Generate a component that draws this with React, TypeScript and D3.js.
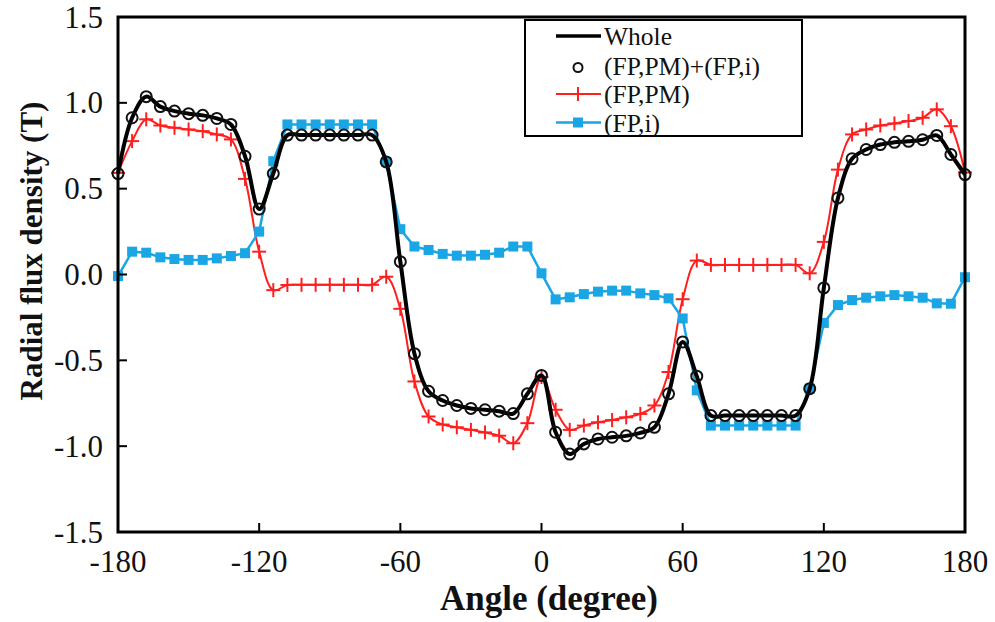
import React from "react";
import * as d3 from "d3";

const angles = [
  -180, -174, -168, -162, -156, -150, -144, -138, -132, -126, -120, -114, -108, -102, -96, -90, -84, -78, -72, -66,
  -60, -54, -48, -42, -36, -30, -24, -18, -12, -6, 0, 6, 12, 18, 24, 30, 36, 42, 48, 54,
  60, 66, 72, 78, 84, 90, 96, 102, 108, 114, 120, 126, 132, 138, 144, 150, 156, 162, 168, 174, 180,
];

const wholeValues = [
  0.588, 0.913, 1.036, 0.978, 0.952, 0.937, 0.927, 0.909, 0.874, 0.689, 0.381, 0.588, 0.812, 0.812, 0.812, 0.812, 0.812, 0.812, 0.812, 0.656,
  0.075, -0.461, -0.68, -0.734, -0.763, -0.78, -0.788, -0.796, -0.81, -0.695, -0.588, -0.919, -1.046, -0.987, -0.958, -0.948, -0.94, -0.923, -0.89, -0.695,
  -0.393, -0.592, -0.822, -0.822, -0.822, -0.822, -0.822, -0.822, -0.822, -0.665, -0.078, 0.446, 0.674, 0.728, 0.757, 0.77, 0.776, 0.785, 0.81, 0.699, 0.582,
];

const sumValues = [
  0.588, 0.913, 1.036, 0.978, 0.952, 0.937, 0.927, 0.909, 0.874, 0.689, 0.381, 0.588, 0.812, 0.812, 0.812, 0.812, 0.812, 0.812, 0.812, 0.656,
  0.075, -0.461, -0.68, -0.734, -0.763, -0.78, -0.788, -0.796, -0.81, -0.695, -0.588, -0.919, -1.046, -0.987, -0.958, -0.948, -0.94, -0.923, -0.89, -0.695,
  -0.393, -0.592, -0.822, -0.822, -0.822, -0.822, -0.822, -0.822, -0.822, -0.665, -0.078, 0.446, 0.674, 0.728, 0.757, 0.77, 0.776, 0.785, 0.81, 0.699, 0.582,
];

const pmValues = [
  0.592, 0.777, 0.904, 0.868, 0.855, 0.845, 0.835, 0.816, 0.787, 0.557, 0.133, -0.091, -0.061, -0.06, -0.06, -0.06, -0.06, -0.06, -0.06, -0.013,
  -0.2, -0.623, -0.827, -0.874, -0.89, -0.905, -0.92, -0.939, -0.983, -0.866, -0.597, -0.788, -0.905, -0.88, -0.861, -0.848, -0.832, -0.812, -0.763, -0.568,
  -0.144, 0.081, 0.056, 0.056, 0.056, 0.056, 0.056, 0.056, 0.056, 0.007, 0.19, 0.611, 0.816, 0.845, 0.868, 0.88, 0.894, 0.913, 0.962, 0.864, 0.594,
];

const iValues = [
  -0.009, 0.133, 0.127, 0.1, 0.09, 0.085, 0.085, 0.094, 0.108, 0.124, 0.25, 0.66, 0.874, 0.874, 0.874, 0.874, 0.874, 0.874, 0.874, 0.656,
  0.264, 0.163, 0.143, 0.12, 0.11, 0.11, 0.115, 0.127, 0.163, 0.163, 0.007, -0.145, -0.133, -0.114, -0.1, -0.094, -0.094, -0.11, -0.12, -0.139,
  -0.256, -0.675, -0.88, -0.88, -0.88, -0.88, -0.88, -0.88, -0.88, -0.665, -0.282, -0.178, -0.149, -0.135, -0.127, -0.12, -0.127, -0.135, -0.168, -0.17, -0.016,
];

const xTicks = [-180, -120, -60, 0, 60, 120, 180];
const yTicks = [-1.5, -1.0, -0.5, 0.0, 0.5, 1.0, 1.5];
const legendLabels = ["Whole", "(FP,PM)+(FP,i)", "(FP,PM)", "(FP,i)"];

const W = 995;
const H = 622;
const M = { left: 118, right: 965, top: 17, bottom: 532 };
const RED = "#ff1f1f";
const BLUE = "#1aa6e4";
const FONT = "Liberation Serif, DejaVu Serif, serif";

export default function App() {
  const x = d3.scaleLinear().domain([-180, 180]).range([M.left, M.right]);
  const y = d3.scaleLinear().domain([-1.5, 1.5]).range([M.bottom, M.top]);

  const mk = (vals: number[]) => angles.map((a, i) => [a, vals[i]] as [number, number]);
  const smooth = d3
    .line<[number, number]>()
    .x((d) => x(d[0]))
    .y((d) => y(d[1]))
    .curve(d3.curveCatmullRom.alpha(0.5));
  const straight = d3
    .line<[number, number]>()
    .x((d) => x(d[0]))
    .y((d) => y(d[1]));

  const pm = mk(pmValues);
  const cur = mk(iValues);
  const whole = mk(wholeValues);
  const sum = mk(sumValues);

  const cross = (cx: number, cy: number, key: string | number) => (
    <g key={key} stroke={RED} strokeWidth={2}>
      <line x1={cx - 7} x2={cx + 7} y1={cy} y2={cy} />
      <line x1={cx} x2={cx} y1={cy - 7} y2={cy + 7} />
    </g>
  );

  const lgX0 = 556;
  const lgX1 = 601;
  const lgMid = 578;
  const lgTextX = 604;
  const baselines = [45, 74.5, 103, 131.5];
  const txt = { fontFamily: FONT } as React.CSSProperties;

  return (
    <svg width={W} height={H} style={{ position: "absolute", left: 0, top: 0, background: "#fff" }}>
      <rect x={0} y={0} width={W} height={H} fill="#fff" />
      {/* series */}
      <path d={smooth(pm) || ""} fill="none" stroke={RED} strokeWidth={2} />
      {pm.map((d, i) => cross(x(d[0]), y(d[1]), "pm" + i))}
      <path d={straight(cur) || ""} fill="none" stroke={BLUE} strokeWidth={2.5} />
      {cur.map((d, i) => (
        <rect key={"i" + i} x={x(d[0]) - 5} y={y(d[1]) - 5} width={10} height={10} fill={BLUE} />
      ))}
      <path d={smooth(whole) || ""} fill="none" stroke="#000" strokeWidth={4} />
      {sum.map((d, i) => (
        <circle key={"s" + i} cx={x(d[0])} cy={y(d[1])} r={5.5} fill="none" stroke="#111" strokeWidth={2} />
      ))}

      {/* frame */}
      <rect
        x={M.left}
        y={M.top}
        width={M.right - M.left}
        height={M.bottom - M.top}
        fill="none"
        stroke="#000"
        strokeWidth={3}
      />
      {/* ticks */}
      {xTicks.map((t) => (
        <g key={"xt" + t}>
          {t > -180 && t < 180 && (
            <line x1={x(t)} x2={x(t)} y1={M.bottom} y2={M.bottom - 9} stroke="#000" strokeWidth={2} />
          )}
          <text x={x(t)} y={572} textAnchor="middle" style={txt} fontSize={31} fill="#111">
            {t}
          </text>
        </g>
      ))}
      {yTicks.map((t) => (
        <g key={"yt" + t}>
          {t > -1.5 && t < 1.5 && (
            <line x1={M.left} x2={M.left + 9} y1={y(t)} y2={y(t)} stroke="#000" strokeWidth={2} />
          )}
          <text x={103} y={y(t) + 10.5} textAnchor="end" style={txt} fontSize={31} fill="#111">
            {t.toFixed(1)}
          </text>
        </g>
      ))}

      {/* axis titles */}
      <text x={549} y={610} textAnchor="middle" style={txt} fontSize={35} fontWeight="bold" fill="#111">
        Angle (degree)
      </text>
      <text
        transform="translate(42,251) rotate(-90)"
        textAnchor="middle"
        style={txt}
        fontSize={31}
        fontWeight="bold"
        fill="#111"
      >
        Radial flux density (T)
      </text>

      {/* legend */}
      <rect x={525} y={20} width={277} height={116} fill="#fff" stroke="#000" strokeWidth={2} />
      <line x1={lgX0} x2={lgX1} y1={baselines[0] - 9} y2={baselines[0] - 9} stroke="#000" strokeWidth={3.5} />
      <circle cx={lgMid} cy={baselines[1] - 7} r={4.5} fill="none" stroke="#111" strokeWidth={2} />
      <line x1={lgX0} x2={lgX1} y1={baselines[2] - 9} y2={baselines[2] - 9} stroke={RED} strokeWidth={2} />
      {cross(lgMid, baselines[2] - 9, "lgc")}
      <line x1={lgX0} x2={lgX1} y1={baselines[3] - 9} y2={baselines[3] - 9} stroke={BLUE} strokeWidth={2.5} />
      <rect x={lgMid - 5} y={baselines[3] - 14} width={10} height={10} fill={BLUE} />
      {legendLabels.map((l, i) => (
        <text key={l} x={lgTextX} y={baselines[i]} style={txt} fontSize={25.5} fill="#111">
          {l}
        </text>
      ))}
    </svg>
  );
}
